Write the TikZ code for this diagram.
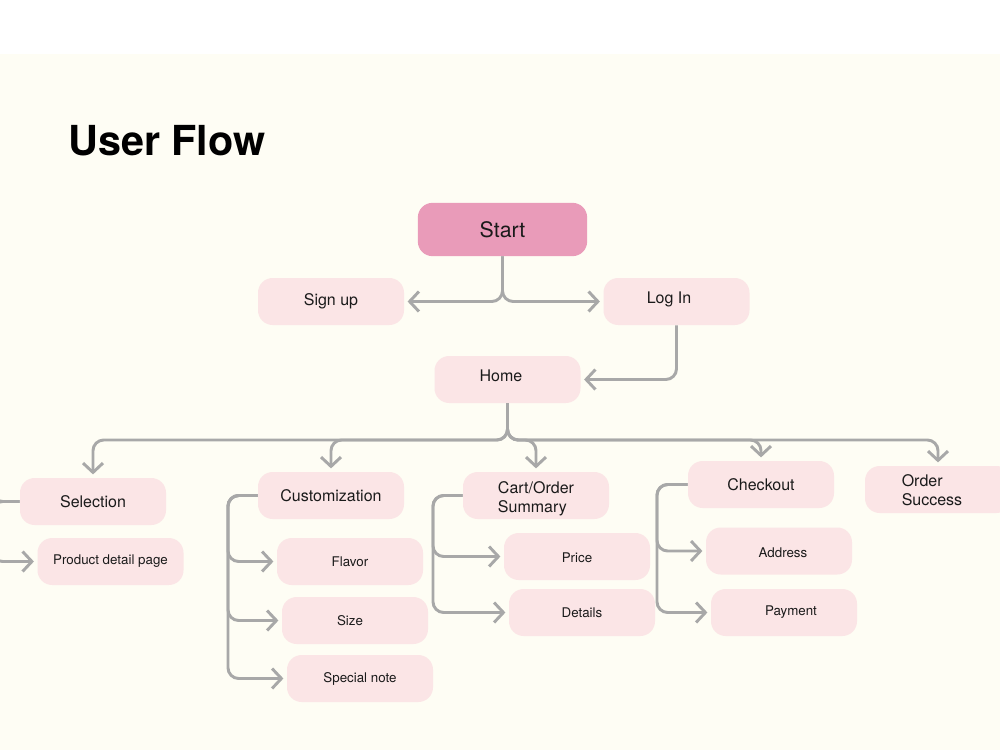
\documentclass[tikz,border=0pt]{standalone}
\usepackage{fontspec}
\setmainfont{TeX Gyre Heros}
\usetikzlibrary{arrows.meta}
\definecolor{bgcream}{HTML}{FEFDF4}
\definecolor{startpink}{HTML}{E99BB9}
\definecolor{lightpink}{HTML}{FBE5E6}
\definecolor{linegray}{HTML}{A8A8A8}
\definecolor{txt}{HTML}{1A1A1A}
\newcommand\tsh[3]{\raisebox{#2}{\hspace*{#1}#3}}
\newcommand\twol[2]{\begin{tabular}{@{}l@{}}#1\\#2\end{tabular}}
\tikzset{
  box/.style={rectangle, rounded corners=11pt, fill=lightpink, text=txt,
    minimum width=109.5pt, minimum height=35.25pt, inner sep=0pt,
    font=\fontsize{12pt}{14pt}\selectfont, align=center},
  smallbox/.style={box, font=\fontsize{10pt}{12pt}\selectfont},
  fixedtext/.style={text height=7pt, text depth=2pt},
  startbox/.style={box, fill=startpink, minimum width=127pt, minimum height=40pt,
    font=\fontsize{16pt}{18pt}\selectfont},
  conn/.style={draw=linegray, line width=2.2pt, rounded corners=8pt,
    -{Straight Barb[length=7pt,width=15pt]}, shorten >=2.5pt},
  plain/.style={draw=linegray, line width=2.2pt, rounded corners=8pt}
}
\begin{document}
\begin{tikzpicture}[x=0.75pt,y=-0.75pt]
\useasboundingbox (0,0) rectangle (1000,750);
\fill[white] (0,0) rectangle (1000,750);
\fill[bgcream] (0,54) rectangle (1000,750);
\clip (0,0) rectangle (1000,750);

\node[anchor=base west, font=\fontsize{31pt}{34pt}\selectfont\bfseries, text=black, inner sep=0pt] (title) at (68,155) {User Flow};

% nodes
\node[startbox] (start) at (502.5,229.5) {Start};
\node[box] (signup) at (331,301.5) {Sign up};
\node[box, fixedtext] (login) at (676.5,301.5) {\tsh{-11.25pt}{0.75pt}{Log In}};
\node[box, fixedtext] (home) at (507.5,379.5) {\tsh{-9.75pt}{0.75pt}{Home}};

\node[box] (sel) at (93,501.5) {Selection};
\node[smallbox] (pdp) at (110.5,561.5) {Product detail page};

\node[box] (cust) at (331,495.5) {Customization};
\node[smallbox] (flavor) at (350,561.5) {Flavor};
\node[smallbox] (size) at (355,620.5) {\tsh{-7.5pt}{0pt}{Size}};
\node[smallbox] (note) at (360,678.5) {Special note};

\node[box, fixedtext] (cart) at (536,495.5) {\tsh{0pt}{-3.5pt}{\twol{Cart/Order}{Summary}}};
\node[smallbox, fixedtext] (price) at (577,556.5) {\tsh{0pt}{-2pt}{Price}};
\node[smallbox] (details) at (582,612.5) {Details};

\node[box] (checkout) at (761,484.5) {Checkout};
\node[smallbox, fixedtext] (address) at (779,551) {\tsh{6pt}{-2pt}{Address}};
\node[smallbox] (payment) at (784,612.5) {\tsh{10.5pt}{0pt}{Payment}};

\node[box, fixedtext] (success) at (938,489.5) {\tsh{-9pt}{-2.5pt}{\twol{Order}{Success}}};

% connectors
\draw[conn] (start.south) -- (502.5,301.5) -- (signup.east);
\draw[conn] (start.south) -- (502.5,301.5) -- (login.west);
\draw[conn] (login.south) |- (home.east);

\coordinate (hb) at (507.5,440);
\draw[conn] (home.south) -- (hb) -| (sel.north);
\draw[conn] (home.south) -- (hb) -| (cust.north);
\draw[conn] (home.south) -- (hb) -| (cart.north);
\draw[conn] (home.south) -- (hb) -| (checkout.north);
\draw[conn] (home.south) -- (hb) -| (success.north);

\coordinate (selv) at (-8,501.5);
\draw[plain] (sel.west) -- (selv) -- (-8,480);
\draw[conn] (sel.west) -- (selv) |- (pdp.west);

\coordinate (custv) at (228,495.5);
\draw[conn] (cust.west) -- (custv) |- (flavor.west);
\draw[conn] (cust.west) -- (custv) |- (size.west);
\draw[conn] (cust.west) -- (custv) |- (note.west);

\coordinate (cartv) at (433,495.5);
\draw[conn] (cart.west) -- (cartv) |- (price.west);
\draw[conn] (cart.west) -- (cartv) |- (details.west);

\coordinate (chkv) at (657,484.5);
\draw[conn] (checkout.west) -- (chkv) |- (address.west);
\draw[conn] (checkout.west) -- (chkv) |- (payment.west);
\end{tikzpicture}
\end{document}
